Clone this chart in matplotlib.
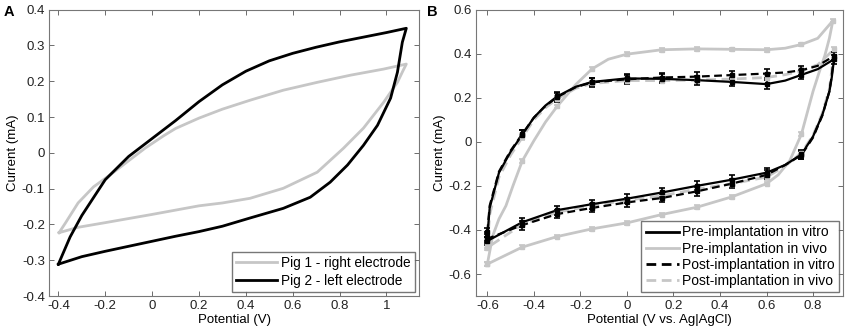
import numpy as np
import matplotlib.pyplot as plt
from matplotlib.lines import Line2D

plt.rcParams['font.family'] = ['Liberation Sans', 'DejaVu Sans']
plt.rcParams['font.size'] = 9.5

GRAY = '#c6c6c6'

# ---- panel A: one cycle per pig (potential V, current mA) ----
pig2_v = [-0.40, -0.35, -0.30, -0.20, -0.10, 0.0, 0.1, 0.2, 0.3, 0.4, 0.5, 0.6, 0.7, 0.8, 0.9, 1.0, 1.085,
          1.068, 1.047, 1.018, 0.962, 0.902, 0.834, 0.76, 0.675, 0.56, 0.418, 0.3, 0.2, 0.1, 0.0, -0.1, -0.2, -0.3, -0.40]
pig2_i = [-0.311, -0.235, -0.175, -0.075, -0.01, 0.04, 0.09, 0.143, 0.19, 0.228, 0.257, 0.278, 0.295, 0.31, 0.323, 0.336, 0.348,
          0.309, 0.225, 0.153, 0.077, 0.021, -0.034, -0.082, -0.124, -0.155, -0.182, -0.205, -0.22, -0.233, -0.247, -0.261, -0.275, -0.29, -0.311]
pig1_v = [-0.397, -0.37, -0.316, -0.25, -0.17, -0.1, -0.03, 0.05, 0.1, 0.2, 0.3, 0.418, 0.56, 0.705, 0.847, 0.988, 1.085,
          1.072, 1.047, 0.988, 0.902, 0.817, 0.705, 0.56, 0.418, 0.3, 0.2, 0.1, 0.0, -0.2, -0.316, -0.397]
pig1_i = [-0.223, -0.196, -0.14, -0.095, -0.057, -0.022, 0.013, 0.048, 0.068, 0.097, 0.122, 0.147, 0.175, 0.197, 0.217, 0.234, 0.248,
          0.231, 0.197, 0.141, 0.069, 0.013, -0.054, -0.099, -0.127, -0.14, -0.148, -0.16, -0.172, -0.195, -0.208, -0.223]

# ---- panel B: four CVs, mean curves ----
pre_vitro_v = [-0.6, -0.59, -0.55, -0.5, -0.45, -0.4, -0.35, -0.3, -0.22, -0.15, 0.0, 0.15, 0.3, 0.45, 0.6, 0.68, 0.75, 0.82, 0.89,
               0.88, 0.87, 0.84, 0.8, 0.75, 0.68, 0.6, 0.45, 0.3, 0.15, 0.0, -0.15, -0.3, -0.45, -0.6]
pre_vitro_i = [-0.43, -0.30, -0.14, -0.045, 0.033, 0.11, 0.165, 0.206, 0.25, 0.272, 0.288, 0.286, 0.28, 0.272, 0.262, 0.278, 0.304, 0.33, 0.375,
               0.29, 0.228, 0.123, 0.025, -0.057, -0.105, -0.14, -0.172, -0.2, -0.23, -0.258, -0.283, -0.31, -0.365, -0.45]
post_vitro_v = pre_vitro_v
post_vitro_i = [-0.41, -0.29, -0.135, -0.04, 0.035, 0.11, 0.163, 0.203, 0.248, 0.27, 0.284, 0.292, 0.296, 0.303, 0.31, 0.315, 0.325, 0.345, 0.39,
                0.30, 0.23, 0.12, 0.02, -0.06, -0.105, -0.15, -0.19, -0.225, -0.255, -0.275, -0.3, -0.328, -0.378, -0.44]
pre_vivo_v = [-0.6, -0.577, -0.55, -0.52, -0.49, -0.45, -0.4, -0.35, -0.3, -0.22, -0.15, -0.08, 0.0, 0.15, 0.3, 0.45, 0.6, 0.68, 0.75, 0.82, 0.885,
              0.87, 0.85, 0.827, 0.8, 0.784, 0.75, 0.7, 0.65, 0.6, 0.45, 0.3, 0.15, 0.0, -0.15, -0.3, -0.45, -0.6]
pre_vivo_i = [-0.555, -0.427, -0.35, -0.29, -0.2, -0.087, 0.005, 0.09, 0.161, 0.26, 0.331, 0.375, 0.398, 0.418, 0.422, 0.42, 0.418, 0.425, 0.442, 0.47, 0.55,
              0.47, 0.39, 0.319, 0.23, 0.168, 0.035, -0.085, -0.15, -0.19, -0.25, -0.297, -0.33, -0.368, -0.395, -0.43, -0.478, -0.555]
post_vivo_v = pre_vitro_v
post_vivo_i = [-0.47, -0.33, -0.16, -0.06, 0.02, 0.1, 0.155, 0.195, 0.243, 0.265, 0.278, 0.278, 0.28, 0.285, 0.292, 0.305, 0.322, 0.35, 0.42,
               0.32, 0.24, 0.13, 0.03, -0.05, -0.11, -0.16, -0.19, -0.215, -0.245, -0.265, -0.29, -0.32, -0.375, -0.48]
marker_v = [-0.6, -0.45, -0.3, -0.15, 0.0, 0.15, 0.3, 0.45, 0.6, 0.75, 0.885, 0.89]

fig = plt.figure(figsize=(8.51, 3.33), dpi=100)
axA = fig.add_axes([0.0576, 0.111, 0.435, 0.860])
axB = fig.add_axes([0.559, 0.111, 0.432, 0.860])


def style(ax):
    ax.tick_params(direction='in', top=True, right=True, length=3.5, width=0.6,
                   colors='#555555', labelcolor='#222222', labelsize=9.5, pad=3)
    for s in ax.spines.values():
        s.set_color('#777777')
        s.set_linewidth(0.8)


axA.plot(pig1_v, pig1_i, color=GRAY, lw=2.0, label='Pig 1 - right electrode')
axA.plot(pig2_v, pig2_i, color='black', lw=2.0, label='Pig 2 - left electrode')
axA.set_xlim(-0.44, 1.14)
axA.set_ylim(-0.4, 0.4)
axA.set_xticks([-0.4, -0.2, 0, 0.2, 0.4, 0.6, 0.8, 1])
axA.set_xticklabels(['-0.4', '-0.2', '0', '0.2', '0.4', '0.6', '0.8', '1'])
axA.set_yticks(np.arange(-0.4, 0.41, 0.1))
axA.set_yticklabels(['-0.4', '-0.3', '-0.2', '-0.1', '0', '0.1', '0.2', '0.3', '0.4'])
axA.set_xlabel('Potential (V)', labelpad=1)
axA.set_ylabel('Current (mA)', labelpad=2)
axA.legend(loc='lower right', fontsize=9.8, frameon=True, fancybox=False, edgecolor='#555555',
           borderpad=0.3, handlelength=3.0, labelspacing=0.3, borderaxespad=0.3, handletextpad=0.3)
style(axA)


def draw(ax, v, i, color, ls, err, lw):
    v = np.array(v)
    i = np.array(i)
    ax.plot(v, i, color=color, ls=ls, lw=lw, dashes=(3.5, 2) if ls == '--' else (None, None))
    m = np.isin(np.round(v, 3), marker_v)
    ax.errorbar(v[m], i[m], yerr=err, fmt='s', ms=3.5, color=color, ecolor=color,
                elinewidth=1.2, capsize=2.5, capthick=1.2)


draw(axB, pre_vivo_v, pre_vivo_i, GRAY, '-', 0.008, 2.0)
draw(axB, post_vivo_v, post_vivo_i, GRAY, '--', 0.012, 2.0)
draw(axB, pre_vitro_v, pre_vitro_i, 'black', '-', 0.02, 1.6)
draw(axB, post_vitro_v, post_vitro_i, 'black', '--', 0.02, 1.6)

handles = [Line2D([], [], color='black', lw=2),
           Line2D([], [], color=GRAY, lw=2),
           Line2D([], [], color='black', lw=2, ls='--', dashes=(3.5, 2)),
           Line2D([], [], color=GRAY, lw=2, ls='--', dashes=(3.5, 2))]
labels = ['Pre-implantation in vitro', 'Pre-implantation in vivo',
          'Post-implantation in vitro', 'Post-implantation in vivo']
axB.legend(handles, labels, loc='lower right', fontsize=10, frameon=True, fancybox=False, edgecolor='#555555',
           borderpad=0.3, handlelength=2.4, labelspacing=0.15, borderaxespad=0.3, handletextpad=0.25)
axB.set_xlim(-0.65, 0.93)
axB.set_ylim(-0.7, 0.6)
axB.set_xticks([-0.6, -0.4, -0.2, 0, 0.2, 0.4, 0.6, 0.8])
axB.set_xticklabels(['-0.6', '-0.4', '-0.2', '0', '0.2', '0.4', '0.6', '0.8'])
axB.set_yticks([-0.6, -0.4, -0.2, 0, 0.2, 0.4, 0.6])
axB.set_yticklabels(['-0.6', '-0.4', '-0.2', '0', '0.2', '0.4', '0.6'])
axB.set_xlabel('Potential (V vs. Ag|AgCl)', labelpad=1)
axB.set_ylabel('Current (mA)', labelpad=2)
style(axB)

fig.text(0.004, 0.985, 'A', fontsize=10.5, fontweight='bold', va='top')
fig.text(0.502, 0.985, 'B', fontsize=10.5, fontweight='bold', va='top')

fig.savefig('out.png', dpi=100)
